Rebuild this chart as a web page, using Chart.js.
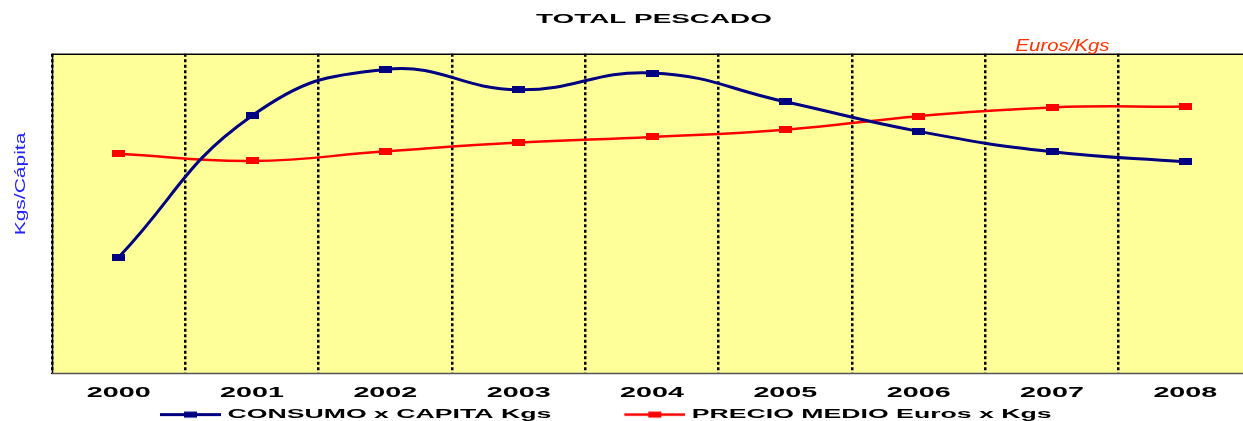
<!DOCTYPE html>
<html>
<head>
<meta charset="utf-8">
<script src="https://cdn.jsdelivr.net/npm/chart.js@4.4.1/dist/chart.umd.min.js"></script>
<style>
html,body{margin:0;padding:0;background:#ffffff;overflow:hidden;width:1243px;height:421px}
canvas{display:block}
</style>
</head>
<body>
<canvas id="c" width="1252" height="421" style="width:1252px;height:421px"></canvas>
<script>
// ---- data ----
const categories = ['2000', '2001', '2002', '2003', '2004', '2005', '2006', '2007', '2008'];
const consumoKgs = [24.91, 28.45, 29.61, 29.10, 29.52, 28.80, 28.06, 27.55, 27.30];
const precioMedio = [6.75, 6.66, 6.78, 6.89, 6.96, 7.05, 7.22, 7.33, 7.34];
const seriesNames = ['CONSUMO x CAPITA Kgs', 'PRECIO MEDIO Euros x Kgs'];
const chartTitle = 'TOTAL PESCADO';
const leftAxisTitle = 'Kgs/Cápita';
const rightAxisTitle = 'Euros/Kgs';
const leftRange = [22, 30];
const rightRange = [4, 8];

// ---- styles ----
const FONT = '"Liberation Sans", Arial, sans-serif';
const BLUE = '#000080';
const RED = '#FF0000';
const BOLD_SX = 2.05;
const LEG_GAP = 73, LEG_LINE = 61, LEG_W = LEG_GAP + LEG_LINE;

const canvas = document.getElementById('c');
const ctx = canvas.getContext('2d');

// wide (horizontally stretched) lettering as in the reference
const _fill = ctx.fillText.bind(ctx);
const _measure = ctx.measureText.bind(ctx);
function sxOf(c) { return /bold/.test(c.font) ? BOLD_SX : (c._sx || 1); }
ctx.fillText = function (t, x, y, mw) {
  const sx = sxOf(ctx);
  if (sx === 1) { return mw === undefined ? _fill(t, x, y) : _fill(t, x, y, mw); }
  ctx.save();
  ctx.translate(x, y);
  ctx.scale(sx, 1);
  if (mw === undefined) _fill(t, 0, 0); else _fill(t, 0, 0, mw / sx);
  ctx.restore();
};
ctx.measureText = function (t) {
  const m = _measure(t);
  const sx = sxOf(ctx);
  if (sx === 1) return m;
  return {
    width: m.width * sx,
    actualBoundingBoxLeft: m.actualBoundingBoxLeft * sx,
    actualBoundingBoxRight: m.actualBoundingBoxRight * sx,
    actualBoundingBoxAscent: m.actualBoundingBoxAscent,
    actualBoundingBoxDescent: m.actualBoundingBoxDescent,
    fontBoundingBoxAscent: m.fontBoundingBoxAscent,
    fontBoundingBoxDescent: m.fontBoundingBoxDescent
  };
};

function rectMarker(color, w, h) {
  const c = document.createElement('canvas');
  c.width = w; c.height = h;
  const g = c.getContext('2d');
  g.fillStyle = color;
  g.fillRect(0, 0, w, h);
  return c;
}
function legendMarker(color, lw) {
  const c = document.createElement('canvas');
  c.width = LEG_W; c.height = 9;
  const g = c.getContext('2d');
  g.strokeStyle = color;
  g.lineWidth = lw;
  g.beginPath();
  g.moveTo(LEG_GAP, 4.5);
  g.lineTo(LEG_W, 4.5);
  g.stroke();
  g.fillStyle = color;
  g.fillRect(LEG_GAP + LEG_LINE / 2 - 6.5, 1.5, 13, 6);
  return c;
}

const areaPlugin = {
  id: 'area',
  beforeDraw(chart) {
    const a = chart.chartArea, c = chart.ctx;
    c.save();
    c.fillStyle = '#FFFF99';
    c.fillRect(a.left, a.top, a.right - a.left, a.bottom - a.top);
    c.restore();
  },
  beforeDatasetsDraw(chart) {
    const a = chart.chartArea, c = chart.ctx;
    c.save();
    c.lineWidth = 1.5;
    c.strokeStyle = '#000000';
    c.beginPath();
    c.moveTo(a.left, a.top + 0.5); c.lineTo(a.right, a.top + 0.5);
    c.moveTo(a.left + 0.5, a.top); c.lineTo(a.left + 0.5, a.bottom);
    c.stroke();
    c.strokeStyle = '#555555';
    c.beginPath();
    c.moveTo(a.left, a.bottom); c.lineTo(a.right, a.bottom);
    c.stroke();
    c.restore();
  },
  afterLayout(chart) {
    const lg = chart.legend;
    if (lg) {
      const p = lg.options.labels.padding;
      const shift = 160 - (lg.left + p + LEG_GAP);
      lg.left += shift;
      lg.right += shift;
      lg.top -= 4.9;
      lg.bottom -= 4.9;
    }
    const tb = chart.titleBlock;
    if (tb) { tb.left += 2; tb.right += 2; }
  },
  afterDraw(chart) {
    const c = chart.ctx;
    c.save();
    c.font = '15px ' + FONT;
    c.fillStyle = '#2323FF';
    c.textAlign = 'center';
    c.textBaseline = 'alphabetic';
    c._sx = 1.4;
    c.translate(25, 184);
    c.rotate(-Math.PI / 2);
    c.fillText(leftAxisTitle, 0, 0);
    c.restore();

    c.save();
    c.font = 'italic 17px ' + FONT;
    c.fillStyle = '#FF3300';
    c.textAlign = 'center';
    c.textBaseline = 'alphabetic';
    c._sx = 1.2;
    c.fillText(rightAxisTitle, 1062.5, 51);
    c.restore();
    c._sx = 1;
  }
};

const legendImgs = [legendMarker(BLUE, 3), legendMarker(RED, 2.5)];

new Chart(ctx, {
  type: 'line',
  data: {
    labels: categories,
    datasets: [
      {
        label: seriesNames[0], data: consumoKgs, yAxisID: 'y',
        borderColor: BLUE, backgroundColor: BLUE, borderWidth: 3, tension: 0.45,
        pointStyle: rectMarker(BLUE, 13, 7), pointRadius: 6, fill: false
      },
      {
        label: seriesNames[1], data: precioMedio, yAxisID: 'y1',
        borderColor: RED, backgroundColor: RED, borderWidth: 2.5, tension: 0.45,
        pointStyle: rectMarker(RED, 13, 7), pointRadius: 6, fill: false
      }
    ]
  },
  options: {
    responsive: false,
    animation: false,
    devicePixelRatio: 1,
    layout: { autoPadding: false, padding: { left: 52, right: 0, top: 0, bottom: -15 } },
    scales: {
      x: {
        offset: true,
        grid: { offset: true, color: '#000000', lineWidth: 2.5, drawTicks: false, tickLength: 0 },
        border: { display: false, dash: [3, 2.5] },
        ticks: {
          padding: 14.8, color: '#000000', maxRotation: 0, autoSkip: false,
          font: { family: FONT, size: 14, weight: 'bold', lineHeight: 0.7 }
        },
        afterFit: (s) => { s.paddingLeft = 0; s.paddingRight = 0; }
      },
      y: { display: false, min: leftRange[0], max: leftRange[1] },
      y1: { display: false, position: 'right', min: rightRange[0], max: rightRange[1] }
    },
    plugins: {
      title: {
        display: true, text: chartTitle, fullSize: false, color: '#000000',
        font: { family: FONT, size: 13.6, weight: 'bold', lineHeight: 1.2 },
        padding: { top: 10.6, bottom: 26.9 }
      },
      legend: {
        position: 'bottom', align: 'start',
        labels: {
          usePointStyle: true, pointStyleWidth: LEG_W, padding: 0, color: '#000000',
          font: { family: FONT, size: 13, weight: 'bold' },
          generateLabels: (chart) => chart.data.datasets.map((ds, i) => ({
            text: ds.label, fillStyle: ds.borderColor, strokeStyle: ds.borderColor,
            lineWidth: 0, pointStyle: legendImgs[i], datasetIndex: i, hidden: false,
            fontColor: '#000000'
          }))
        }
      },
      tooltip: { enabled: false }
    }
  },
  plugins: [areaPlugin]
});
</script>
</body>
</html>
